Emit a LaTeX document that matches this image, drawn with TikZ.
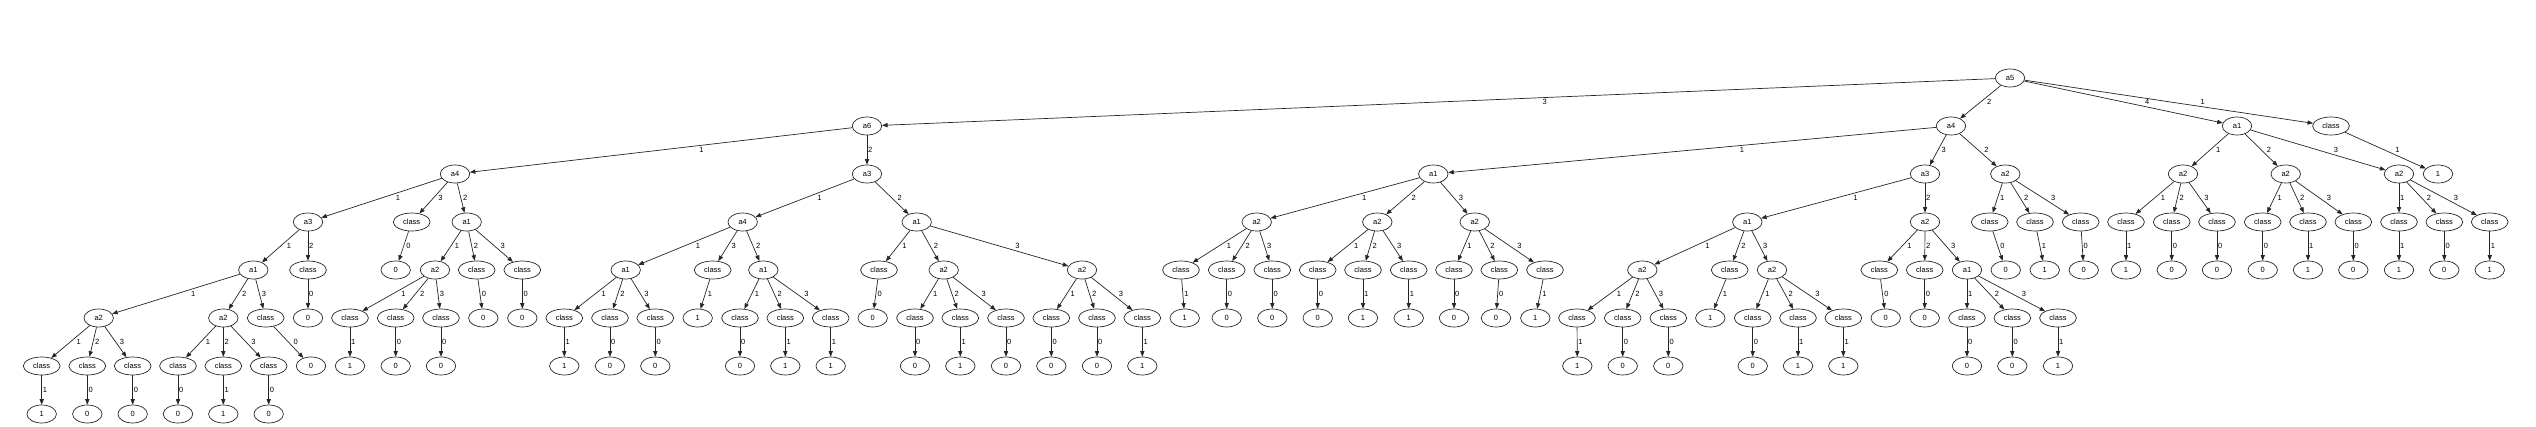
\documentclass[tikz,border=0pt]{standalone}
\usepackage{fontspec}
\setmainfont{Liberation Sans}
\usetikzlibrary{arrows.meta,calc,shapes.geometric}
\tikzset{
  nd/.style={draw=black!85, ellipse, line width=0.7pt, minimum width=29.5pt, minimum height=18pt, inner sep=0pt, font=\fontsize{7.5}{8}\selectfont},
  cls/.style={nd, minimum width=36.8pt},
  edge/.style={draw=black!85, line width=0.7pt, -{Triangle[length=5.5pt,width=4.2pt]}},
  lbl/.style={inner sep=0pt, font=\fontsize{7.5}{8}\selectfont}
}
\newcommand\tedge[3]{\path[edge] (#1) -- (#2);
  \path let \p1=(#1), \p2=(#2) in node[lbl] at ({0.5*(\x1+\x2)+3.3pt+0.09*abs(\x2-\x1)},{0.5*(\y1+\y2)}) {#3};}
% class node + leaf: name, x, y, parent, edge label, leaf x, value
\newcommand\cpair[7]{\node[cls] (#1) at (#2,#3) {class};
  \node[nd] (#1v) at (#6,#3+48) {#7};
  \tedge{#4}{#1}{#5}\tedge{#1}{#1v}{#7}}
\newcommand\inner[6]{\node[nd] (#1) at (#2,#3) {#4}; \tedge{#5}{#1}{#6}}
\begin{document}
\begin{tikzpicture}[x=1pt,y=-1pt]
\useasboundingbox (0,0) rectangle (2536,426);
% root
\node[nd] (r) at (2010,78) {a5};
\inner{A}{867}{126}{a6}{r}{3}
\inner{B}{1951}{126}{a4}{r}{2}
\inner{C}{2237}{126}{a1}{r}{4}
\cpair{D}{2331}{126}{r}{1}{2438}{1}
% ---- A subtree
\inner{AA}{455}{174}{a4}{A}{1}
\inner{AB}{867}{174}{a3}{A}{2}
\inner{AAa}{308}{222}{a3}{AA}{1}
\cpair{AAc}{411.7}{222}{AA}{3}{395.7}{0}
\inner{AAb}{466.7}{222}{a1}{AA}{2}
\inner{AAa1}{253.3}{270}{a1}{AAa}{1}
\cpair{AAa2}{308}{270}{AAa}{2}{308}{0}
\inner{p1}{98.7}{318}{a2}{AAa1}{1}
\inner{p2}{223.3}{318}{a2}{AAa1}{2}
\cpair{p3}{265.7}{318}{AAa1}{3}{311}{0}
\cpair{p1a}{41.7}{366}{p1}{1}{41.7}{1}
\cpair{p1b}{87.3}{366}{p1}{2}{87.3}{0}
\cpair{p1c}{132.7}{366}{p1}{3}{132.7}{0}
\cpair{p2a}{178}{366}{p2}{1}{178}{0}
\cpair{p2b}{223.3}{366}{p2}{2}{223.3}{1}
\cpair{p2c}{268.7}{366}{p2}{3}{268.7}{0}
\inner{q1}{435}{270}{a2}{AAb}{1}
\cpair{q2}{476.7}{270}{AAb}{2}{483.3}{0}
\cpair{q3}{522.3}{270}{AAb}{3}{522.3}{0}
\cpair{q1a}{350}{318}{q1}{1}{350}{1}
\cpair{q1b}{395.7}{318}{q1}{2}{395.7}{0}
\cpair{q1c}{441}{318}{q1}{3}{441}{0}
% AB
\inner{r1}{742.7}{222}{a4}{AB}{1}
\inner{r2}{916.7}{222}{a1}{AB}{2}
\inner{s1}{625.7}{270}{a1}{r1}{1}
\cpair{s3}{712.7}{270}{r1}{3}{697.7}{1}
\inner{s2}{763.3}{270}{a1}{r1}{2}
\cpair{s1a}{564.3}{318}{s1}{1}{564.3}{1}
\cpair{s1b}{610}{318}{s1}{2}{610}{0}
\cpair{s1c}{655.3}{318}{s1}{3}{655.3}{0}
\cpair{s2a}{740}{318}{s2}{1}{740}{0}
\cpair{s2b}{785.3}{318}{s2}{2}{785.3}{1}
\cpair{s2c}{830.7}{318}{s2}{3}{830.7}{1}
\cpair{t1}{879}{270}{r2}{1}{872.7}{0}
\inner{t2}{943.7}{270}{a2}{r2}{2}
\inner{t3}{1082}{270}{a2}{r2}{3}
\cpair{t2a}{915}{318}{t2}{1}{915}{0}
\cpair{t2b}{960.3}{318}{t2}{2}{960.3}{1}
\cpair{t2c}{1006}{318}{t2}{3}{1006}{0}
\cpair{t3a}{1051.3}{318}{t3}{1}{1051.3}{0}
\cpair{t3b}{1097}{318}{t3}{2}{1097}{0}
\cpair{t3c}{1142.3}{318}{t3}{3}{1142.3}{1}
% ---- B subtree
\inner{u1}{1433.3}{174}{a1}{B}{1}
\inner{u3}{1925}{174}{a3}{B}{3}
\inner{u2}{2005.3}{174}{a2}{B}{2}
\inner{v1}{1256.7}{222}{a2}{u1}{1}
\inner{v2}{1377.3}{222}{a2}{u1}{2}
\inner{v3}{1474.7}{222}{a2}{u1}{3}
\cpair{v1a}{1181}{270}{v1}{1}{1184.7}{1}
\cpair{v1b}{1226.7}{270}{v1}{2}{1226.7}{0}
\cpair{v1c}{1272.3}{270}{v1}{3}{1272.3}{0}
\cpair{v2a}{1317.7}{270}{v2}{1}{1317.7}{0}
\cpair{v2b}{1363}{270}{v2}{2}{1363}{1}
\cpair{v2c}{1408.7}{270}{v2}{3}{1408.7}{1}
\cpair{v3a}{1454}{270}{v3}{1}{1454}{0}
\cpair{v3b}{1499.3}{270}{v3}{2}{1496}{0}
\cpair{v3c}{1545}{270}{v3}{3}{1535.3}{1}
\inner{w1}{1747.3}{222}{a1}{u3}{1}
\inner{w2}{1925}{222}{a2}{u3}{2}
\inner{x1}{1642.3}{270}{a2}{w1}{1}
\cpair{x2}{1729.7}{270}{w1}{2}{1710.3}{1}
\inner{x3}{1772}{270}{a2}{w1}{3}
\cpair{x1a}{1577}{318}{x1}{1}{1577.3}{1}
\cpair{x1b}{1622.7}{318}{x1}{2}{1622.7}{0}
\cpair{x1c}{1668.3}{318}{x1}{3}{1668.3}{0}
\cpair{x3a}{1752.7}{318}{x3}{1}{1752.7}{0}
\cpair{x3b}{1798}{318}{x3}{2}{1798}{1}
\cpair{x3c}{1843.3}{318}{x3}{3}{1843.3}{1}
\cpair{w2a}{1879.3}{270}{w2}{1}{1885.7}{0}
\cpair{w2b}{1924.7}{270}{w2}{2}{1924.7}{0}
\inner{y3}{1967}{270}{a1}{w2}{3}
\cpair{y3a}{1967}{318}{y3}{1}{1967}{0}
\cpair{y3b}{2012.3}{318}{y3}{2}{2012.3}{0}
\cpair{y3c}{2058}{318}{y3}{3}{2058}{1}
\cpair{u2a}{1989.7}{222}{u2}{1}{2005.7}{0}
\cpair{u2b}{2035}{222}{u2}{2}{2044.7}{1}
\cpair{u2c}{2080.7}{222}{u2}{3}{2083.7}{0}
% ---- C subtree
\inner{z1}{2183}{174}{a2}{C}{1}
\inner{z2}{2285.7}{174}{a2}{C}{2}
\inner{z3}{2399}{174}{a2}{C}{3}
\cpair{z1a}{2126}{222}{z1}{1}{2126}{1}
\cpair{z1b}{2171.7}{222}{z1}{2}{2171.7}{0}
\cpair{z1c}{2217}{222}{z1}{3}{2217}{0}
\cpair{z2a}{2262.7}{222}{z2}{1}{2262.7}{0}
\cpair{z2b}{2308}{222}{z2}{2}{2308}{1}
\cpair{z2c}{2353.3}{222}{z2}{3}{2353.3}{0}
\cpair{z3a}{2399}{222}{z3}{1}{2399}{1}
\cpair{z3b}{2444.3}{222}{z3}{2}{2444.3}{0}
\cpair{z3c}{2489.7}{222}{z3}{3}{2489.7}{1}
\end{tikzpicture}
\end{document}
